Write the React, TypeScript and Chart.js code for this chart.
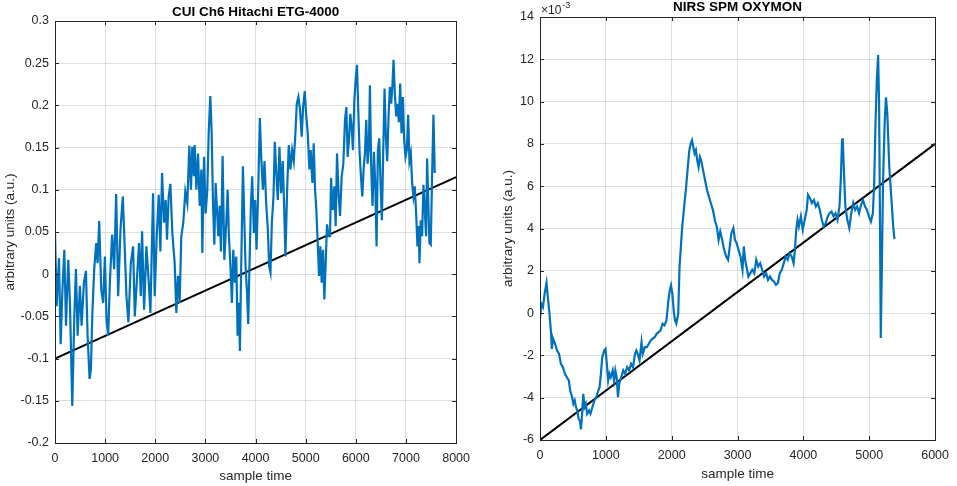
import { useEffect, useRef } from 'react'
import { Chart, registerables } from 'chart.js'

Chart.register(...registerables)

// CUI Ch6 Hitachi ETG-4000
const cuiSample = [
  0, 33, 80, 113, 146, 186, 219, 265, 298, 345, 385, 418, 451, 497, 530, 577, 617, 650, 690, 716,
  743, 782, 822, 849, 882, 922, 961, 995, 1028, 1061, 1094, 1140, 1180, 1220, 1260, 1306, 1353, 1392, 1425, 1465,
  1512, 1558, 1591, 1638, 1677, 1711, 1737, 1777, 1823, 1870, 1903, 1956, 1989, 2029, 2069, 2102, 2135, 2175, 2208, 2234,
  2267, 2301, 2340, 2387, 2420, 2453, 2486, 2519, 2559, 2599, 2639, 2679, 2712, 2738, 2771, 2786, 2820, 2853, 2886, 2919,
  2939, 2972, 3005, 3038, 3065, 3098, 3125, 3151, 3178, 3204, 3231, 3257, 3284, 3310, 3343, 3377, 3416, 3443, 3469, 3502,
  3529, 3556, 3589, 3615, 3642, 3668, 3688, 3715, 3748, 3774, 3801, 3827, 3854, 3880, 3907, 3933, 3967, 3993, 4020, 4053,
  4086, 4113, 4146, 4179, 4212, 4245, 4272, 4298, 4325, 4358, 4384, 4417, 4444, 4477, 4510, 4543, 4570, 4596, 4630, 4663,
  4696, 4729, 4762, 4795, 4822, 4855, 4888, 4921, 4948, 4981, 5008, 5041, 5074, 5100, 5134, 5160, 5187, 5213, 5240, 5266,
  5293, 5319, 5346, 5372, 5399, 5425, 5458, 5486, 5506, 5539, 5572, 5598, 5625, 5658, 5685, 5718, 5751, 5784, 5811, 5837,
  5864, 5890, 5917, 5943, 5970, 5996, 6023, 6049, 6076, 6102, 6129, 6155, 6182, 6208, 6235, 6261, 6281, 6308, 6334, 6361,
  6387, 6414, 6440, 6467, 6493, 6520, 6546, 6573, 6600, 6626, 6653, 6679, 6706, 6732, 6752, 6779, 6805, 6832, 6858, 6885,
  6911, 6938, 6964, 6991, 7017, 7044, 7070, 7097, 7123, 7150, 7176, 7203, 7229, 7256, 7269, 7296, 7322, 7349, 7375, 7402,
  7422, 7448, 7468, 7495, 7521, 7548, 7574,
]
const cuiValue = [
  0.049, -0.038, 0.019, -0.083, -0.022, 0.029, -0.061, 0.017, -0.034, -0.156, -0.05, 0.006, -0.073, -0.014, -0.061, -0.01, 0.004, -0.073, -0.124, -0.113,
  -0.05, 0.006, 0.037, 0.013, 0.063, -0.018, -0.034, 0.021, -0.054, -0.073, -0.01, 0.047, 0.006, 0.095, -0.026, 0.053, 0.092, 0.029, -0.026, -0.057,
  0.013, 0.033, -0.05, -0.002, 0.037, -0.026, 0.051, -0.042, 0.033, -0.01, -0.046, 0.096, -0.026, 0.045, 0.094, 0.027, 0.12, 0.061, 0.088, 0.041,
  0.092, 0.107, 0.049, 0.013, -0.046, -0.002, -0.034, 0.045, 0.061, 0.098, 0.084, 0.152, 0.1, 0.151, 0.116, 0.153, 0.1, 0.143, 0.081, 0.124,
  0.025, 0.139, 0.072, 0.1, 0.167, 0.211, 0.167, 0.084, 0.035, 0.108, 0.076, 0.045, 0.081, 0.027, 0.14, 0.017, 0.061, 0.1, 0.045, 0.006,
  -0.034, 0.029, -0.01, 0.021, -0.073, -0.034, -0.091, 0.013, 0.128, 0.069, 0.009, -0.018, -0.059, 0.013, 0.081, 0.116, 0.049, 0.088, 0.029, 0.1,
  0.185, 0.139, 0.1, 0.134, 0.084, 0.053, 0.009, 0.002, 0.061, 0.092, 0.157, 0.116, 0.088, 0.151, 0.096, 0.134, 0.081, 0.021, 0.1, 0.153,
  0.124, 0.147, 0.134, 0.167, 0.202, 0.21, 0.194, 0.163, 0.198, 0.217, 0.19, 0.167, 0.124, 0.147, 0.108, 0.155, 0.1, 0.076, 0.037, -0.002,
  0.033, -0.01, 0.029, -0.03, 0.013, 0.059, 0.045, 0.045, 0.114, 0.076, 0.104, 0.057, 0.143, 0.092, 0.069, 0.116, 0.131, 0.183, 0.198, 0.139,
  0.16, 0.19, 0.174, 0.147, 0.206, 0.23, 0.248, 0.194, 0.143, 0.116, 0.092, 0.124, 0.143, 0.183, 0.131, 0.151, 0.224, 0.124, 0.081, 0.145,
  0.108, 0.033, 0.147, 0.161, 0.108, 0.064, 0.143, 0.22, 0.163, 0.134, 0.187, 0.222, 0.202, 0.226, 0.254, 0.213, 0.187, 0.202, 0.18, 0.226,
  0.167, 0.21, 0.16, 0.139, 0.147, 0.189, 0.134, 0.143, 0.108, 0.092, 0.104, 0.072, 0.033, 0.057, 0.013, 0.064, 0.045, 0.106, 0.076, 0.045,
  0.137, 0.081, 0.037, 0.035, 0.116, 0.189, 0.12,
]
const cuiTrendSample = [0, 8000]
const cuiTrendValue = [-0.1, 0.115]

// NIRS SPM OXYMON, values in units of 10^-3
const oxySample = [
  0, 20, 45, 70, 99, 119, 144, 169, 179, 199, 229, 259, 288, 318, 348, 378, 408, 438, 458, 487,
  507, 527, 547, 567, 587, 607, 622, 637, 657, 676, 696, 716, 746, 766, 796, 826, 856, 885, 905, 925,
  945, 975, 995, 1015, 1035, 1055, 1074, 1104, 1124, 1144, 1164, 1184, 1204, 1234, 1264, 1293, 1323, 1353, 1383, 1413,
  1443, 1463, 1482, 1512, 1542, 1562, 1592, 1622, 1652, 1681, 1711, 1741, 1771, 1801, 1831, 1861, 1890, 1920, 1950, 1970,
  1990, 2010, 2030, 2050, 2070, 2099, 2119, 2139, 2159, 2189, 2219, 2249, 2268, 2288, 2308, 2328, 2348, 2368, 2388, 2408,
  2428, 2448, 2477, 2507, 2537, 2567, 2597, 2627, 2657, 2686, 2712, 2737, 2767, 2796, 2826, 2856, 2876, 2906, 2936, 2961,
  2986, 3015, 3045, 3075, 3095, 3115, 3135, 3165, 3194, 3224, 3254, 3284, 3314, 3344, 3374, 3403, 3433, 3463, 3493, 3523,
  3553, 3583, 3612, 3642, 3672, 3702, 3732, 3762, 3791, 3821, 3851, 3871, 3891, 3911, 3931, 3961, 3990, 4020, 4050, 4070,
  4100, 4130, 4160, 4189, 4219, 4249, 4279, 4309, 4339, 4369, 4398, 4428, 4458, 4488, 4518, 4548, 4568, 4587, 4597, 4617,
  4637, 4667, 4697, 4727, 4757, 4786, 4816, 4846, 4876, 4906, 4936, 4966, 4995, 5025, 5055, 5075, 5095, 5115, 5135, 5150,
  5165, 5175, 5190, 5209, 5234, 5254, 5274, 5304, 5334, 5364, 5383,
]
const oxyValue = [
  -0.27, 0.44, 0.28, 0.91, 1.44, 0.76, -0.03, -0.98, -1.69, -1.21, -1.45, -1.77, -1.92, -2.4, -2.56, -2.87, -3.03, -3.19, -3.66, -3.97,
  -4.29, -4.13, -4.45, -4.61, -5.0, -5.1, -5.5, -4.9, -3.82, -4.45, -4.29, -4.76, -4.61, -4.76, -4.45, -4.13, -3.97, -3.66, -3.5, -2.87,
  -2.08, -1.77, -1.69, -2.4, -3.19, -2.87, -3.03, -2.71, -3.19, -2.71, -3.03, -3.97, -3.34, -3.03, -2.71, -2.87, -2.56, -2.71, -2.4, -2.56,
  -1.92, -1.77, -1.92, -2.24, -1.37, -1.92, -1.61, -1.61, -1.45, -1.29, -1.21, -1.14, -0.98, -0.9, -0.82, -0.5, -0.58, -0.35, 0.6, 1.07,
  1.31, 0.91, 0.13, -0.35, -0.5, -0.03, 2.18, 3.12, 4.07, 5.02, 5.96, 7.07, 7.7, 8.01, 8.17, 7.85, 7.54, 7.7, 7.22, 6.91,
  7.38, 7.22, 6.75, 6.28, 5.8, 5.49, 5.17, 4.86, 4.38, 4.07, 3.46, 3.86, 3.46, 2.99, 2.68, 2.52, 2.99, 3.78, 4.02, 3.46,
  3.31, 2.99, 2.68, 2.05, 3.15, 2.52, 2.2, 1.73, 1.89, 2.05, 1.89, 2.52, 2.2, 2.36, 2.05, 1.73, 1.89, 1.57, 1.73, 1.57,
  1.5, 1.34, 1.42, 1.89, 2.05, 2.36, 2.68, 2.52, 2.83, 2.68, 2.36, 2.99, 3.94, 4.41, 4.09, 4.57, 3.94, 4.41, 4.88, 5.59,
  5.43, 5.2, 5.35, 5.04, 5.2, 4.88, 4.41, 4.09, 4.25, 4.57, 4.72, 4.8, 4.57, 4.72, 4.41, 5.04, 6.3, 8.19, 8.27, 6.61,
  5.04, 4.41, 4.02, 4.72, 5.2, 4.88, 5.04, 4.72, 5.12, 5.35, 5.04, 4.88, 4.57, 4.33, 4.72, 6.14, 8.98, 11.02, 12.2, 9.76,
  3.46, -1.18, 1.89, 6.14, 8.98, 10.2, 9.45, 6.93, 5.51, 4.09, 3.5,
]
const oxyTrendSample = [0, 6000]
const oxyTrendValue = [-6, 8]

const FONT = '"Liberation Sans", Arial, Helvetica, sans-serif'
const AXIS_COLOR = '#262626'
const GRID_COLOR = 'rgba(38,38,38,0.15)'
const BLUE = '#0072BD'

const toPoints = (xs: number[], ys: number[]) => xs.map((x, i) => ({ x, y: ys[i] }))

const fmt = (v: number | string) => String(Number(Number(v).toFixed(4)))

// box, inward ticks, title and exponent label like a MATLAB axes
const matlabAxes = {
  id: 'matlabAxes',
  afterDraw(chart: any, _args: any, opts: any) {
    const { ctx, chartArea: a, scales } = chart
    const len = 4
    ctx.save()
    ctx.strokeStyle = AXIS_COLOR
    ctx.lineWidth = 1
    ctx.beginPath()
    scales.x.ticks.forEach((t: any) => {
      const px = Math.round(scales.x.getPixelForValue(t.value)) + 0.5
      ctx.moveTo(px, a.bottom)
      ctx.lineTo(px, a.bottom - len)
      ctx.moveTo(px, a.top)
      ctx.lineTo(px, a.top + len)
    })
    scales.y.ticks.forEach((t: any) => {
      const py = Math.round(scales.y.getPixelForValue(t.value)) + 0.5
      ctx.moveTo(a.left, py)
      ctx.lineTo(a.left + len, py)
      ctx.moveTo(a.right, py)
      ctx.lineTo(a.right - len, py)
    })
    ctx.stroke()
    ctx.strokeRect(Math.round(a.left) + 0.5, Math.round(a.top) + 0.5, Math.round(a.right - a.left), Math.round(a.bottom - a.top))

    ctx.fillStyle = '#000'
    ctx.font = `bold 13.5px ${FONT}`
    ctx.textAlign = 'center'
    ctx.textBaseline = 'middle'
    ctx.fillText(opts.title, (a.left + a.right) / 2, a.top + opts.titleOffset)

    if (opts.exponent) {
      ctx.fillStyle = AXIS_COLOR
      ctx.textAlign = 'left'
      ctx.font = `12px ${FONT}`
      ctx.fillText('\u00d710', a.left + 1, a.top - 6)
      const w = ctx.measureText('\u00d710').width
      ctx.font = `9px ${FONT}`
      ctx.fillText(opts.exponent, a.left + w + 2, a.top - 11)
    }
    ctx.restore()
  },
}

interface PanelProps {
  points: { x: number; y: number }[]
  trend: { x: number; y: number }[]
  xMax: number
  yMin: number
  yMax: number
  yStep: number
  title: string
  titleOffset: number
  exponent?: string
  yWidth: number
  xHeight: number
  padTop: number
  padRight: number
  yTitlePad: number
  xTitlePad: number
}

function Panel(p: PanelProps) {
  const chartRef = useRef<HTMLCanvasElement>(null)
  const chartInstance = useRef<Chart | null>(null)

  useEffect(() => {
    if (!chartRef.current) return
    if (chartInstance.current) chartInstance.current.destroy()
    const ctx = chartRef.current.getContext('2d')
    if (!ctx) return

    chartInstance.current = new Chart(ctx, {
      type: 'line',
      data: {
        datasets: [
          {
            data: p.points,
            borderColor: BLUE,
            borderWidth: 2.2,
            pointRadius: 0,
            tension: 0,
          },
          {
            data: p.trend,
            borderColor: '#000000',
            borderWidth: 2,
            pointRadius: 0,
          },
        ],
      },
      options: {
        animation: false,
        responsive: true,
        maintainAspectRatio: false,
        layout: { padding: { top: p.padTop, right: p.padRight, left: 0, bottom: 0 } },
        plugins: {
          legend: { display: false },
          tooltip: { enabled: false },
          matlabAxes: { title: p.title, titleOffset: p.titleOffset, exponent: p.exponent },
        } as any,
        scales: {
          x: {
            type: 'linear',
            min: 0,
            max: p.xMax,
            border: { display: false },
            grid: { color: GRID_COLOR, drawTicks: false },
            ticks: {
              stepSize: 1000,
              autoSkip: false,
              maxRotation: 0,
              padding: 8,
              color: AXIS_COLOR,
              font: { family: FONT, size: 12.5 },
              callback: (v: any) => fmt(v),
            },
            title: {
              display: true,
              text: 'sample time',
              color: AXIS_COLOR,
              font: { family: FONT, size: 13.5 },
              padding: { top: 0, bottom: p.xTitlePad },
            },
            afterFit: (s: any) => {
              s.height = p.xHeight
            },
          },
          y: {
            type: 'linear',
            min: p.yMin,
            max: p.yMax,
            border: { display: false },
            grid: { color: GRID_COLOR, drawTicks: false },
            ticks: {
              stepSize: p.yStep,
              autoSkip: false,
              padding: 6,
              color: AXIS_COLOR,
              font: { family: FONT, size: 12.5 },
              callback: (v: any) => fmt(v),
            },
            title: {
              display: true,
              text: 'arbitrary units (a.u.)',
              color: AXIS_COLOR,
              font: { family: FONT, size: 13.5 },
              padding: { top: p.yTitlePad, bottom: 0 },
            },
            afterFit: (s: any) => {
              s.width = p.yWidth
            },
          },
        },
      },
      plugins: [matlabAxes],
    })

    return () => {
      if (chartInstance.current) {
        chartInstance.current.destroy()
        chartInstance.current = null
      }
    }
  }, [])

  return <canvas ref={chartRef} />
}

export default function App() {
  return (
    <div style={{ position: 'fixed', left: 0, top: 0, width: 957, height: 486, background: '#fff' }}>
      <div style={{ position: 'absolute', left: 0, top: 0, width: 478, height: 486 }}>
        <Panel
          points={toPoints(cuiSample, cuiValue)}
          trend={toPoints(cuiTrendSample, cuiTrendValue)}
          xMax={8000}
          yMin={-0.2}
          yMax={0.3}
          yStep={0.05}
          title="CUI Ch6 Hitachi ETG-4000"
          titleOffset={-9}
          yWidth={55}
          xHeight={43}
          padTop={21}
          padRight={21}
          yTitlePad={2}
          xTitlePad={2}
        />
      </div>
      <div style={{ position: 'absolute', left: 478, top: 0, width: 479, height: 486 }}>
        <Panel
          points={toPoints(oxySample, oxyValue)}
          trend={toPoints(oxyTrendSample, oxyTrendValue)}
          xMax={6000}
          yMin={-6}
          yMax={14}
          yStep={2}
          title="NIRS SPM OXYMON"
          titleOffset={-9.5}
          exponent="-3"
          yWidth={62}
          xHeight={46}
          padTop={17}
          padRight={15}
          yTitlePad={22}
          xTitlePad={4}
        />
      </div>
    </div>
  )
}
